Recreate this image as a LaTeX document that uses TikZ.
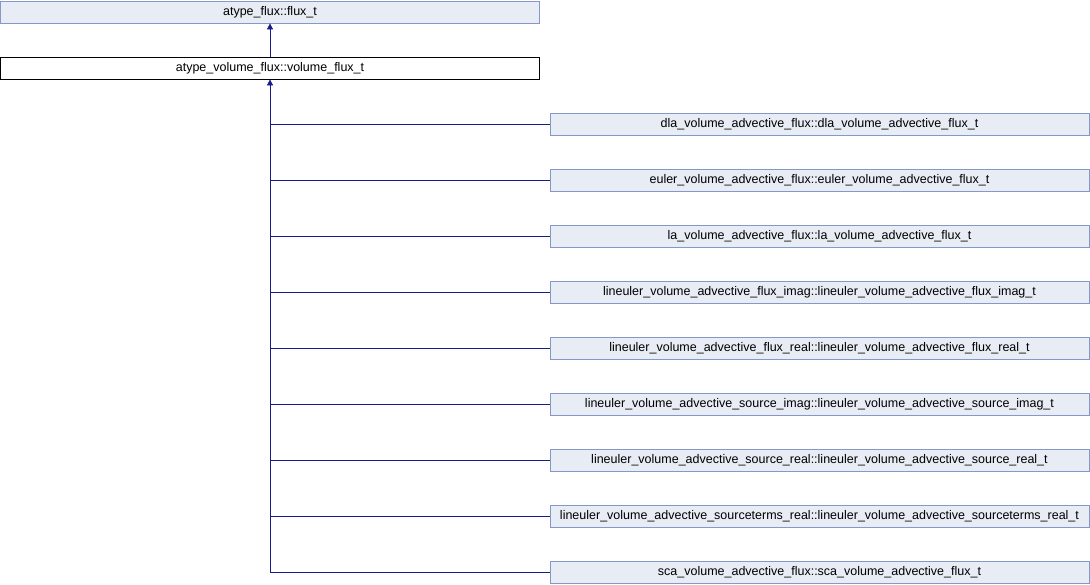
\documentclass[tikz,border=0pt]{standalone}
\usepackage{fontspec}
\setmainfont{Liberation Sans}
\usetikzlibrary{arrows.meta}
\definecolor{boxfill}{HTML}{E8ECF5}
\definecolor{boxline}{HTML}{8598C8}
\definecolor{edge}{HTML}{1A1A8C}
\tikzset{
  cls/.style={draw=boxline, fill=boxfill, minimum width=539pt, minimum height=22pt, inner sep=0pt, font=\fontsize{12.5}{14}\selectfont, line width=0.8pt},
  cur/.style={draw=black, fill=white, minimum width=539pt, minimum height=22pt, inner sep=0pt, font=\fontsize{12.5}{14}\selectfont, line width=0.8pt},
  inh/.style={draw=edge, line width=0.8pt},
  tip/.style={-{Triangle[length=6pt,width=6pt]}}
}
\begin{document}
\begin{tikzpicture}[x=1pt,y=-1pt]
\useasboundingbox (0,0) rectangle (1090,584);
\node[cls] (base) at (270,12) {atype\_flux::flux\_t};
\node[cur] (vol) at (270,68) {atype\_volume\_flux::volume\_flux\_t};
\draw[inh,tip] (vol.north) -- (base.south);
\node[cls] (c1) at (819.5,124) {dla\_volume\_advective\_flux::dla\_volume\_advective\_flux\_t};
\node[cls] (c2) at (819.5,180) {euler\_volume\_advective\_flux::euler\_volume\_advective\_flux\_t};
\node[cls] (c3) at (819.5,236) {la\_volume\_advective\_flux::la\_volume\_advective\_flux\_t};
\node[cls] (c4) at (819.5,292) {lineuler\_volume\_advective\_flux\_imag::lineuler\_volume\_advective\_flux\_imag\_t};
\node[cls] (c5) at (819.5,348) {lineuler\_volume\_advective\_flux\_real::lineuler\_volume\_advective\_flux\_real\_t};
\node[cls] (c6) at (819.5,404) {lineuler\_volume\_advective\_source\_imag::lineuler\_volume\_advective\_source\_imag\_t};
\node[cls] (c7) at (819.5,460) {lineuler\_volume\_advective\_source\_real::lineuler\_volume\_advective\_source\_real\_t};
\node[cls] (c8) at (819.5,516) {lineuler\_volume\_advective\_sourceterms\_real::lineuler\_volume\_advective\_sourceterms\_real\_t};
\node[cls] (c9) at (819.5,572) {sca\_volume\_advective\_flux::sca\_volume\_advective\_flux\_t};
\coordinate (bot) at (vol.south |- c9.west);
\draw[inh,tip] (bot) -- (vol.south);
\foreach \i in {1,...,9} {
  \draw[inh] (c\i.west) -- (vol.south |- c\i.west);
}
\end{tikzpicture}
\end{document}
